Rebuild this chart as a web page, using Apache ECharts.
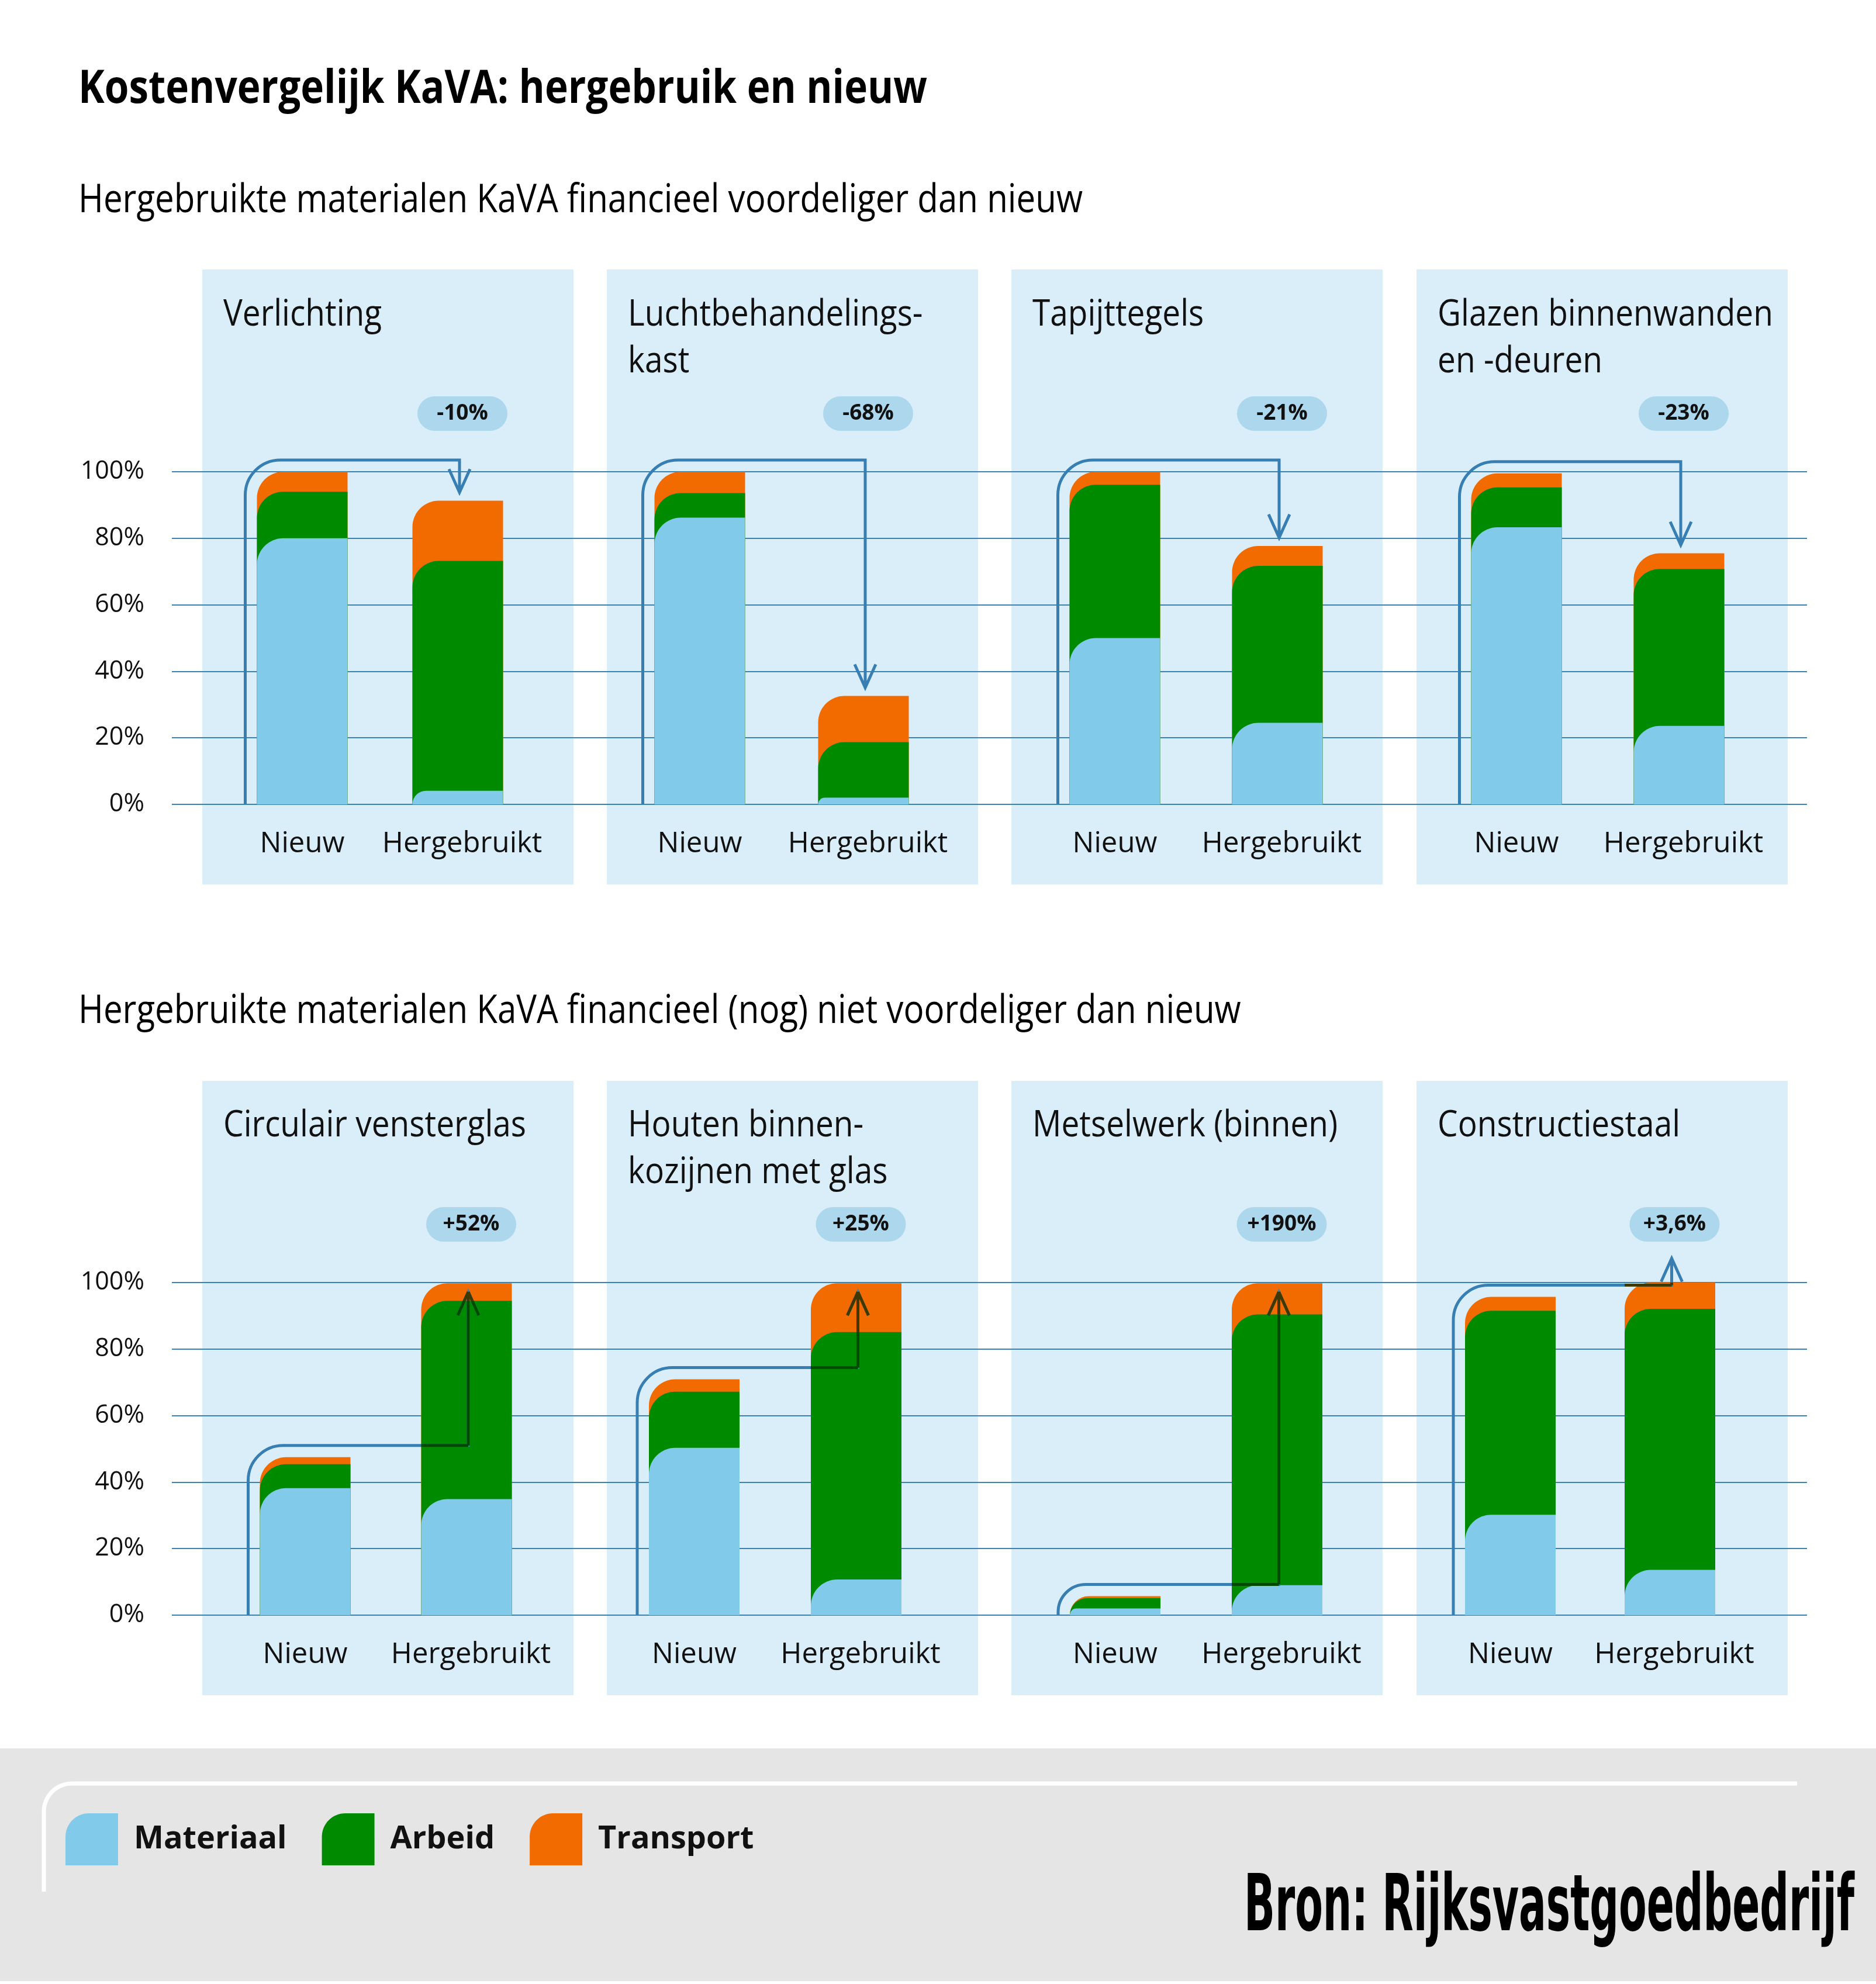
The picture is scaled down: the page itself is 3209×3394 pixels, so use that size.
<!DOCTYPE html>
<html><head><meta charset="utf-8">
<script src="https://cdn.jsdelivr.net/npm/echarts@6/dist/echarts.min.js"></script>
<style>html,body{margin:0;padding:0;background:#fff}#c{width:3209px;height:3394px}</style>
</head><body><div id="c"></div>
<script>
// ---------- DATA ----------
const mainTitle = 'Kostenvergelijk KaVA: hergebruik en nieuw';
const subtitles = [
  'Hergebruikte materialen KaVA financieel voordeliger dan nieuw',
  'Hergebruikte materialen KaVA financieel (nog) niet voordeliger dan nieuw'
];
const categories = ['Nieuw', 'Hergebruikt'];
const panelTitles = [
  ['Verlichting'], ['Luchtbehandelings-', 'kast'], ['Tapijttegels'], ['Glazen binnenwanden', 'en -deuren'],
  ['Circulair vensterglas'], ['Houten binnen-', 'kozijnen met glas'], ['Metselwerk (binnen)'], ['Constructiestaal']
];
// [Nieuw, Hergebruikt] in % of the new price
const materiaal = [[80, 4.1], [86.2, 2.0], [50.0, 24.5], [83.3, 23.6], [38.2, 34.9], [50.3, 10.7], [2.0, 9.0], [30.2, 13.6]];
const arbeid    = [[14.0, 69.1], [7.4, 16.7], [46.1, 47.2], [12.0, 47.2], [7.2, 59.6], [16.9, 74.4], [3.1, 81.4], [61.3, 78.5]];
const transport = [[6.0, 18.1], [6.4, 13.9], [3.9, 6.0], [4.2, 4.7], [2.1, 5.3], [3.7, 14.7], [0.6, 9.4], [4.2, 7.9]];
const changeLabels = ['-10%', '-68%', '-21%', '-23%', '+52%', '+25%', '+190%', '+3,6%'];
const legendNames = ['Materiaal', 'Arbeid', 'Transport'];
const sourceText = 'Bron: Rijksvastgoedbedrijf';

// ---------- LAYOUT / STYLE ----------
const C_MAT = '#82cae9', C_ARB = '#008a00', C_TRA = '#f26b00';
const C_PANEL = '#daeefa', C_GRID = '#3b82b1', C_CHIP = '#acd7ec';
const ARROW_RGB = [64, 136, 182];
const FONT = '"Open Sans", "Noto Sans", sans-serif';
const panelLefts = [346, 1038, 1730, 2423];
const panelW = 635;
const rows = [
  { top: 461, bottom: 1513, y100: 807, titleBase: 562, subBase: 368 },
  { top: 1849, bottom: 2900, y100: 2194, titleBase: 1949, subBase: 1755 }
];
const plotH = 569;
const gridMids = [650, 1337, 2046, 2733, 660, 1326, 2046, 2720];
const gridDists = [266, 280, 278, 278, 276, 277, 277, 273];
const barW = 155;

const r1 = v => Math.round(v * 10) / 10;
const cumMA = materiaal.map((m, i) => m.map((v, j) => r1(v + arbeid[i][j])));
const cumAll = materiaal.map((m, i) => m.map((v, j) => r1(v + arbeid[i][j] + transport[i][j])));

function hexRgb(h) { return [1, 3, 5].map(k => parseInt(h.substr(k, 2), 16)); }
function mul(under) { const u = hexRgb(under); return 'rgb(' + ARROW_RGB.map((a, k) => Math.round(a * u[k] / 255)).join(',') + ')'; }
const ARROW_BASE = mul(C_PANEL);
const segMul = [mul(C_MAT), mul(C_ARB), mul(C_TRA)];

// Liang-Barsky clip of segment p1-p2 to rect
function clipSeg(p1, p2, r) {
  let t0 = 0, t1 = 1;
  const dx = p2[0] - p1[0], dy = p2[1] - p1[1];
  const p = [-dx, dx, -dy, dy], q = [p1[0] - r.x1, r.x2 - p1[0], p1[1] - r.y1, r.y2 - p1[1]];
  for (let k = 0; k < 4; k++) {
    if (p[k] === 0) { if (q[k] < 0) return null; }
    else {
      const t = q[k] / p[k];
      if (p[k] < 0) { if (t > t1) return null; if (t > t0) t0 = t; }
      else { if (t < t0) return null; if (t < t1) t1 = t; }
    }
  }
  if (t1 - t0 < 1e-6) return null;
  return [[p1[0] + t0 * dx, p1[1] + t0 * dy], [p1[0] + t1 * dx, p1[1] + t1 * dy]];
}

const mctx = document.createElement('canvas').getContext('2d');
function fit(text, font, target) { mctx.font = font; return target / mctx.measureText(text).width; }

const graphics = [];
rows.forEach(row => panelLefts.forEach(x => {
  graphics.push({ type: 'rect', z: -5, silent: true, shape: { x, y: row.top, width: panelW, height: row.bottom - row.top }, style: { fill: C_PANEL } });
}));
graphics.push({ type: 'rect', z: -5, silent: true, shape: { x: 0, y: 2991, width: 3209, height: 398 }, style: { fill: '#e5e5e5' } });
const cornerPts = [[75, 3236]];
for (let a = 0; a <= 20; a++) {
  const t = (Math.PI / 2) * a / 20;
  cornerPts.push([75 + 48 * (1 - Math.cos(t)), 3099 - 48 * Math.sin(t)]);
}
cornerPts.push([3074, 3051]);
graphics.push({ type: 'polyline', z: -4, silent: true, shape: { points: cornerPts },
  style: { fill: null, stroke: '#ffffff', lineWidth: 7 } });

function addText(str, x, base, size, weight, family, scale, color) {
  graphics.push({ type: 'text', z: 10, silent: true, x, y: base - 0.357 * size, scaleX: scale, scaleY: 1,
    style: { text: str, font: `${weight} ${size}px ${family}`, fill: color || '#000', align: 'left', verticalAlign: 'middle' } });
}
addText(mainTitle, 134, 182, 78, 'bold', FONT, fit(mainTitle, `bold 78px ${FONT}`, 1452));
const subScale = fit(subtitles[0], `normal 67px ${FONT}`, 1718);
subtitles.forEach((s, r) => addText(s, 134, rows[r].subBase, 67, 'normal', FONT, subScale));
const ptScale = fit('Glazen binnenwanden', `normal 63px ${FONT}`, 574);
panelTitles.forEach((lines, i) => {
  const row = rows[Math.floor(i / 4)], x = panelLefts[i % 4] + 36;
  lines.forEach((ln, k) => addText(ln, x, row.titleBase + k * 80, 63, 'normal', FONT, ptScale, '#111'));
});
const srcFamily = '"DejaVu Sans", sans-serif';
addText(sourceText, 2128, 3315, 134, 'bold', srcFamily, fit(sourceText, `bold 134px ${srcFamily}`, 1044));

// ---------- OPTION ----------
const grid = [], xAxis = [], yAxis = [], series = [];
for (let i = 0; i < 8; i++) {
  const row = rows[Math.floor(i / 4)];
  grid.push({ left: gridMids[i] - gridDists[i], width: 2 * gridDists[i], top: row.y100, height: plotH });
  xAxis.push({ type: 'category', gridIndex: i, data: categories, axisLine: { show: false }, axisTick: { show: false },
    axisLabel: { interval: 0, fontSize: 49, fontFamily: FONT, color: '#111', margin: 44,
      formatter: (v, idx) => idx === 1 ? '{h|' + v + '}' : v,
      rich: { h: { fontSize: 49, fontFamily: FONT, color: '#111', padding: [0, 0, 0, 15] } } } });
  yAxis.push({ type: 'value', gridIndex: i, min: 0, max: 100, show: false, splitLine: { show: false } });
}
rows.forEach((row, r) => {
  grid.push({ left: 294, width: 2797, top: row.y100, height: plotH });
  xAxis.push({ type: 'value', gridIndex: 8 + r, min: 0, max: 1, show: false });
  yAxis.push({ type: 'value', gridIndex: 8 + r, min: 0, max: 100, interval: 20,
    axisLine: { show: false }, axisTick: { show: false },
    splitLine: { lineStyle: { color: C_GRID, width: 2 } },
    axisLabel: { formatter: '{value}%', fontSize: 43, fontFamily: FONT, color: '#111', margin: 47 } });
});

for (let i = 0; i < 8; i++) {
  const common = { type: 'bar', xAxisIndex: i, yAxisIndex: i, barWidth: barW, barGap: '-100%', silent: true, animation: false };
  series.push(Object.assign({}, common, { name: 'Transport', data: cumAll[i], itemStyle: { color: C_TRA, borderRadius: [45, 0, 0, 0] } }));
  series.push(Object.assign({}, common, { name: 'Arbeid', data: cumMA[i], itemStyle: { color: C_ARB, borderRadius: [45, 0, 0, 0] } }));
  series.push(Object.assign({}, common, { name: 'Materiaal', data: materiaal[i], itemStyle: { color: C_MAT, borderRadius: [45, 0, 0, 0] } }));
  series.push({
    type: 'custom', xAxisIndex: i, yAxisIndex: i, silent: true, animation: false, z: 5,
    data: [[0, cumAll[i][0], cumAll[i][1], materiaal[i][1], cumMA[i][1]]],
    renderItem: (params, api) => {
      const pN = api.coord([0, api.value(1)]);
      const pH = api.coord([1, api.value(2)]);
      const y0 = api.coord([0, 0])[1];
      const y100 = api.coord([1, 100])[1];
      const yM = api.coord([1, api.value(3)])[1], yMA = api.coord([1, api.value(4)])[1];
      const L = pN[0] - barW / 2 - 20;
      const R = pH[0] + 3;
      const level = pN[1] - 20;
      let tip, up;
      if (pH[1] < level - 40) { tip = pH[1] + 15; up = true; }
      else if (pH[1] > level) { tip = pH[1] - 14; up = false; }
      else { tip = level - 46; up = true; }
      const rr = Math.min(60, (y0 - level) * 0.9), k = 0.5523 * rr;
      const d = `M${L},${y0} L${L},${level + rr} C${L},${level + rr - k} ${L + rr - k},${level} ${L + rr},${level} L${R},${level} L${R},${tip}`;
      const sgn = up ? 1 : -1;
      const hd = `M${R - 18},${tip + sgn * 40} L${R},${tip} L${R + 18},${tip + sgn * 40}`;
      const children = [
        { type: 'path', shape: { pathData: d + ' ' + hd }, style: { fill: 'none', stroke: ARROW_BASE, lineWidth: 5, lineJoin: 'miter' } }
      ];
      // darken the arrow where it crosses the bar segments (multiply look)
      const xl = pH[0] - barW / 2, xr = pH[0] + barW / 2;
      const rects = [
        { x1: xl, x2: xr, y1: yM, y2: y0, c: segMul[0] },
        { x1: xl, x2: xr, y1: yMA, y2: yM, c: segMul[1] },
        { x1: xl, x2: xr, y1: pH[1], y2: yMA, c: segMul[2] }
      ];
      const pieces = [
        [[L + rr, level], [R, level]], [[R, level], [R, tip]],
        [[R - 18, tip + sgn * 40], [R, tip]], [[R, tip], [R + 18, tip + sgn * 40]]
      ];
      pieces.forEach(pc => rects.forEach(rc => {
        if (rc.y2 - rc.y1 <= 0) return;
        const c = clipSeg(pc[0], pc[1], rc);
        if (c) children.push({ type: 'line', shape: { x1: c[0][0], y1: c[0][1], x2: c[1][0], y2: c[1][1] },
          style: { stroke: rc.c, lineWidth: 5, lineCap: 'butt' } });
      }));
      const cx = pH[0] + 8, cy = y100 - 99.5;
      children.push({ type: 'rect', shape: { x: cx - 77, y: cy - 29.5, width: 154, height: 59, r: 29.5 }, style: { fill: C_CHIP } });
      children.push({ type: 'text', x: cx, y: cy, style: { text: changeLabels[i], font: `bold 37px ${FONT}`, fill: '#111', align: 'center', verticalAlign: 'middle' } });
      return { type: 'group', children };
    }
  });
}

const option = {
  backgroundColor: '#ffffff',
  animation: false,
  grid, xAxis, yAxis, series,
  legend: {
    data: legendNames, left: 107, top: 3097, itemWidth: 90, itemHeight: 89, itemGap: 60, selectedMode: false,
    icon: 'path://M0,40 C0,18 18,0 40,0 L90,0 L90,89 L0,89 Z',
    textStyle: { fontSize: 54, fontWeight: 'bold', fontFamily: FONT, color: '#111', padding: [0, 0, 0, 22] }
  },
  graphic: { elements: graphics }
};
const chart = echarts.init(document.getElementById('c'), null, { renderer: 'canvas', width: 3209, height: 3394 });
chart.setOption(option);
</script></body></html>
